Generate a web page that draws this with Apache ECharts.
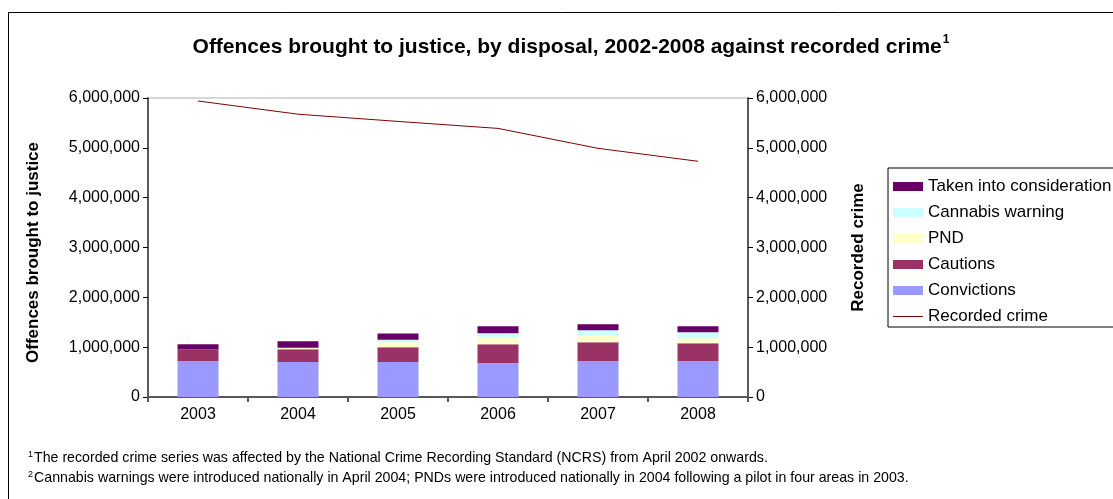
<!DOCTYPE html>
<html><head><meta charset="utf-8">
<script src="https://cdn.jsdelivr.net/npm/echarts@6/dist/echarts.min.js"></script>
<style>html,body{margin:0;padding:0;background:#fff}#c{width:1113px;height:499px}</style>
</head><body><div id="c"></div>
<script>
const years = ['2003','2004','2005','2006','2007','2008'];
const convictions = [720000, 700000, 700000, 680000, 720000, 720000];
const cautions = [240000, 260000, 300000, 380000, 380000, 360000];
const pnd = [0, 30000, 100000, 140000, 135000, 100000];
const cannabis = [0, 0, 50000, 80000, 105000, 120000];
const tic = [100000, 130000, 125000, 140000, 120000, 120000];
const recordedCrime = [5940000, 5675000, 5530000, 5390000, 4990000, 4730000];
const yTicks = [0, 1000000, 2000000, 3000000, 4000000, 5000000, 6000000];

const fmt = v => v.toLocaleString('en-US');
const font = 'Liberation Sans, Arial, sans-serif';
const axisLine = {show:true, lineStyle:{color:'#595959', width:2}};
const chart = echarts.init(document.getElementById('c'));
const barSeries = (name, data, color) => ({
  name, type:'bar', stack:'s', data, barWidth:41, itemStyle:{color}, yAxisIndex:0
});
chart.setOption({
  animation:false,
  textStyle:{fontFamily:font},
  title:{
    text:'{t|Offences brought to justice, by disposal, 2002-2008 against recorded crime}{s|1}',
    left:566, top:29, textAlign:'center',
    textStyle:{rich:{
      t:{fontSize:21, fontWeight:'bold', color:'#000', fontFamily:font},
      s:{fontSize:12, fontWeight:'bold', color:'#000', fontFamily:font, verticalAlign:'top', padding:[0,0,14,1]}
    }}
  },
  grid:{left:148, right:365, top:98, bottom:102, show:true, borderColor:'#b0b0b0', borderWidth:1, backgroundColor:'transparent'},
  legend:{
    orient:'vertical', left:888, top:168, padding:[10,30,2,5],
    borderColor:'#000', borderWidth:1, itemGap:9,
    itemWidth:30, itemHeight:9,
    textStyle:{fontSize:17, color:'#000', fontFamily:font},
    data:[
      {name:'Taken into consideration', icon:'rect'},
      {name:'Cannabis warning', icon:'rect'},
      {name:'PND', icon:'rect'},
      {name:'Cautions', icon:'rect'},
      {name:'Convictions', icon:'rect'},
      {name:'Recorded crime', icon:'path://M0,5L30,5L30,6L0,6Z'}
    ]
  },
  xAxis:{
    type:'category', data:years,
    axisLine, axisTick:{show:true, length:5, lineStyle:{color:'#595959', width:2}},
    axisLabel:{fontSize:16, color:'#000', margin:10}
  },
  yAxis:[
    {type:'value', min:0, max:6000000, interval:1000000, position:'left',
     name:'Offences brought to justice', nameLocation:'middle', nameGap:106, nameRotate:90,
     nameTextStyle:{fontSize:17, fontWeight:'bold', color:'#000', padding:[0,10,0,0]},
     axisLine, axisTick:{show:true, length:5, lineStyle:{color:'#000'}},
     splitLine:{show:false},
     axisLabel:{fontSize:16, color:'#000', margin:8, formatter:v=>yTicks.includes(v)?fmt(v):''}},
    {type:'value', min:0, max:6000000, interval:1000000, position:'right',
     name:'Recorded crime', nameLocation:'middle', nameGap:102, nameRotate:90,
     nameTextStyle:{fontSize:17, fontWeight:'bold', color:'#000'},
     axisLine, axisTick:{show:true, length:5, lineStyle:{color:'#000'}},
     splitLine:{show:false},
     axisLabel:{fontSize:16, color:'#000', margin:8, formatter:v=>yTicks.includes(v)?fmt(v):''}}
  ],
  series:[
    barSeries('Convictions', convictions, '#9999FF'),
    barSeries('Cautions', cautions, '#993366'),
    barSeries('PND', pnd, '#FFFFCC'),
    barSeries('Cannabis warning', cannabis, '#CCFFFF'),
    barSeries('Taken into consideration', tic, '#660066'),
    {name:'Recorded crime', type:'line', yAxisIndex:1, data:recordedCrime,
     symbol:'none', lineStyle:{color:'#800000', width:1}, itemStyle:{color:'#800000'}}
  ],
  graphic:[
    {type:'rect', shape:{x:8.5, y:12.5, width:1200, height:600}, style:{fill:null, stroke:'#000', lineWidth:1}, silent:true, z:-1},
    {type:'text', left:28, top:450, style:{
      text:'{s|1}{t|The recorded crime series was affected by the National Crime Recording Standard (NCRS) from April 2002 onwards.}',
      rich:{t:{fontSize:14.2, fill:'#000', fontFamily:font}, s:{fontSize:9, fill:'#000', fontFamily:font, verticalAlign:'top', padding:[0,1,7,0]}}}},
    {type:'text', left:28, top:470, style:{
      text:'{s|2}{t|Cannabis warnings were introduced nationally in April 2004; PNDs were introduced nationally in 2004 following a pilot in four areas in 2003.}',
      rich:{t:{fontSize:14.2, fill:'#000', fontFamily:font}, s:{fontSize:9, fill:'#000', fontFamily:font, verticalAlign:'top', padding:[0,1,7,0]}}}}
  ]
});
</script></body></html>
